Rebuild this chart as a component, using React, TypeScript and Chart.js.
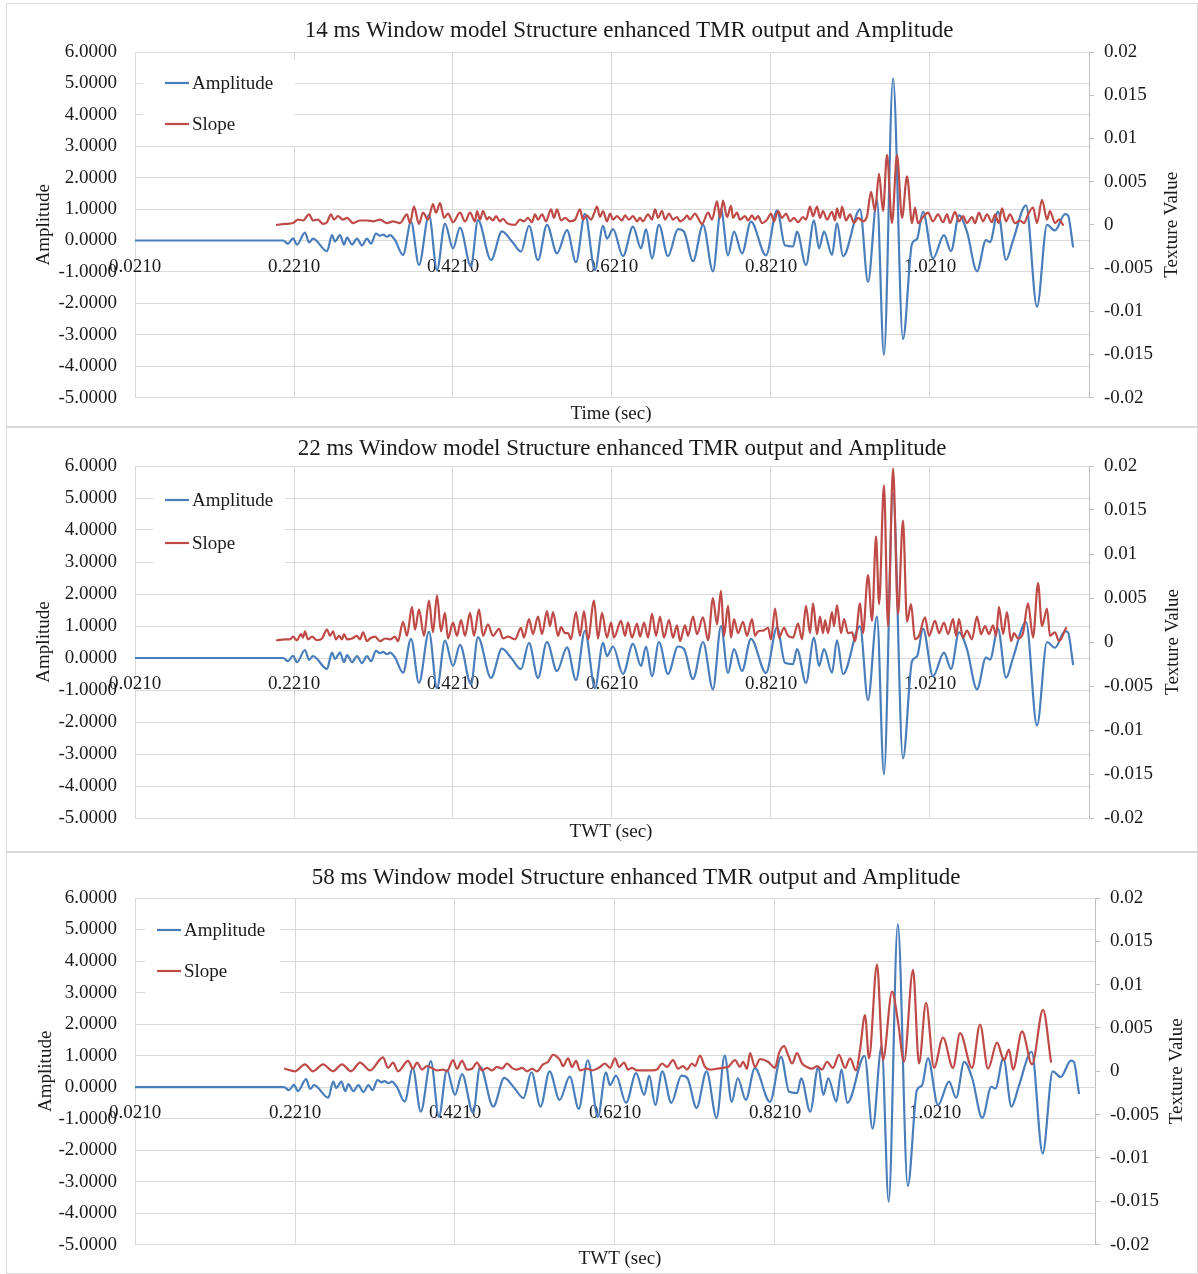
import React, { useEffect, useRef } from "react";
import { Chart, registerables } from "chart.js";

Chart.register(...registerables);

const FONT = "'Liberation Serif', 'Times New Roman', Times, serif";
const TEXT = "#1a1a1a";
const GRID = "#d9d9d9";
const AXIS = "#bfbfbf";
const BLUE = "#4a7ebb";
const RED = "#be4b48";

// ---------- labels & ticks ----------
const seriesNames = ["Amplitude", "Slope"];
const chartTitles = [
  "14 ms Window model Structure enhanced TMR output and Amplitude",
  "22 ms Window model Structure enhanced TMR output and Amplitude",
  "58 ms Window model Structure enhanced TMR output and Amplitude",
];
const xAxisTitles = ["Time (sec)", "TWT (sec)", "TWT (sec)"];
const leftAxisTitle = "Amplitude";
const rightAxisTitle = "Texture Value";
const xTickValues = [0.021, 0.221, 0.421, 0.621, 0.821, 1.021];
const amplitudeTickValues = [-5, -4, -3, -2, -1, 0, 1, 2, 3, 4, 5, 6];
const textureTickValues = [-0.02, -0.015, -0.01, -0.005, 0, 0.005, 0.01, 0.015, 0.02];
const xMin = 0.021;
const xMax = 1.221;

// ---------- amplitude trace (same in all three panels) ----------
const ampTimes = [
  0.021, 0.2072, 0.2135, 0.2197, 0.2248, 0.2348, 0.2399, 0.2449, 0.2625, 0.2688,
  0.2726, 0.2789, 0.2839, 0.2877, 0.2940, 0.3002, 0.3065, 0.3128, 0.3179, 0.3241,
  0.3292, 0.3329, 0.3380, 0.3417, 0.3480, 0.3581, 0.3682, 0.3782, 0.3908, 0.4009,
  0.4109, 0.4210, 0.4298, 0.4436, 0.4524, 0.4688, 0.4826, 0.4952, 0.5065, 0.5166,
  0.5279, 0.5392, 0.5518, 0.5644, 0.5757, 0.5870, 0.5996, 0.6097, 0.6147, 0.6223,
  0.6348, 0.6474, 0.6575, 0.6638, 0.6713, 0.6801, 0.6914, 0.7040, 0.7116, 0.7229,
  0.7355, 0.7480, 0.7581, 0.7669, 0.7745, 0.7845, 0.7958, 0.8147, 0.8286, 0.8386,
  0.8487, 0.8537, 0.8650, 0.8751, 0.8814, 0.8877, 0.8977, 0.9040, 0.9116, 0.9330,
  0.9430, 0.9543, 0.9631, 0.9745, 0.9870, 0.9984, 1.0047, 1.0122, 1.0248, 1.0386,
  1.0474, 1.0575, 1.0675, 1.0801, 1.0914, 1.0965, 1.1065, 1.1166, 1.1254, 1.1418,
  1.1556, 1.1682, 1.1782, 1.1908, 1.1946, 1.2009,
];
const ampValues = [
  0, 0, -0.10, 0.07, -0.13, 0.25, -0.06, 0.06, -0.34, 0.17,
  -0.03, 0.17, -0.13, 0.09, -0.13, 0.06, -0.16, 0.06, -0.10, 0.22,
  0.15, 0.19, 0.12, 0.17, 0.02, -0.46, 0.60, -0.78, 0.82, -0.94,
  0.54, -0.25, 0.41, -0.82, 0.65, -0.62, 0.29, -0.03, -0.35, 0.47,
  -0.62, 0.50, -0.41, 0.33, -0.69, 0.85, -0.94, 0.47, 0.06, 0.36,
  -0.50, 0.44, -0.25, 0.36, -0.57, 0.50, -0.50, 0.36, 0.28, -0.66,
  0.50, -0.98, 1.00, -0.47, 0.28, -0.41, 0.60, -0.47, 0.96, -0.15,
  -0.19, 0.28, -0.78, 0.64, -0.25, 0.28, -0.46, 0.55, -0.50, 0.99,
  -1.32, 1.30, -3.64, 5.16, -3.14, -0.10, 0.05, 0.92, -0.57, 0.17,
  -0.34, 0.80, 0.28, -0.98, 0.01, -0.05, 0.92, -0.62, 0.00, 1.12,
  -2.11, 0.50, 0.32, 0.84, 0.80, -0.19,
];

// ---------- slope, 14 ms window ----------
const slope14Times = [
  0.1996, 0.2097, 0.2197, 0.2260, 0.2323, 0.2399, 0.2449, 0.2512, 0.2575, 0.2625,
  0.2675, 0.2713, 0.2763, 0.2826, 0.2877, 0.2952, 0.3040, 0.3128, 0.3204, 0.3292,
  0.3380, 0.3455, 0.3543, 0.3631, 0.3669, 0.3719, 0.3782, 0.3833, 0.3896, 0.3958,
  0.3996, 0.4047, 0.4097, 0.4147, 0.4210, 0.4298, 0.4361, 0.4424, 0.4487, 0.4512,
  0.4550, 0.4587, 0.4638, 0.4663, 0.4713, 0.4751, 0.4801, 0.4839, 0.4889, 0.4990,
  0.5053, 0.5103, 0.5153, 0.5204, 0.5241, 0.5279, 0.5330, 0.5380, 0.5443, 0.5480,
  0.5518, 0.5569, 0.5619, 0.5682, 0.5745, 0.5807, 0.5845, 0.5896, 0.5946, 0.5984,
  0.6021, 0.6059, 0.6097, 0.6147, 0.6185, 0.6223, 0.6273, 0.6336, 0.6374, 0.6424,
  0.6474, 0.6525, 0.6562, 0.6600, 0.6663, 0.6713, 0.6751, 0.6789, 0.6839, 0.6877,
  0.6927, 0.6977, 0.7028, 0.7065, 0.7128, 0.7153, 0.7191, 0.7254, 0.7292, 0.7342,
  0.7418, 0.7468, 0.7531, 0.7569, 0.7606, 0.7657, 0.7707, 0.7732, 0.7782, 0.7820,
  0.7883, 0.7921, 0.7971, 0.8009, 0.8047, 0.8097, 0.8160, 0.8210, 0.8248, 0.8298,
  0.8348, 0.8399, 0.8449, 0.8499, 0.8550, 0.8613, 0.8650, 0.8701, 0.8738, 0.8789,
  0.8826, 0.8864, 0.8914, 0.8977, 0.9015, 0.9040, 0.9078, 0.9103, 0.9153, 0.9204,
  0.9254, 0.9304, 0.9367, 0.9418, 0.9468, 0.9518, 0.9569, 0.9619, 0.9669, 0.9732,
  0.9795, 0.9858, 0.9921, 0.9984, 1.0021, 1.0059, 1.0122, 1.0185, 1.0248, 1.0311,
  1.0374, 1.0424, 1.0462, 1.0524, 1.0575, 1.0625, 1.0675, 1.0738, 1.0776, 1.0826,
  1.0877, 1.0927, 1.0990, 1.1028, 1.1072, 1.1116, 1.1166, 1.1216, 1.1279, 1.1342,
  1.1392, 1.1443, 1.1506, 1.1556, 1.1619, 1.1682, 1.1719, 1.1782, 1.1833, 1.1883,
];
const slope14Values = [
  0.0000, 0.0001, 0.0002, 0.0006, 0.0005, 0.0012, 0.0005, 0.0006, 0.0001, 0.0003,
  0.0012, 0.0006, 0.0010, 0.0006, 0.0008, 0.0002, 0.0005, 0.0005, 0.0004, 0.0006,
  0.0002, 0.0004, 0.0002, 0.0012, 0.0002, 0.0021, 0.0001, 0.0014, 0.0006, 0.0024,
  0.0014, 0.0025, 0.0008, 0.0013, 0.0003, 0.0014, 0.0004, 0.0014, 0.0004, 0.0016,
  0.0006, 0.0016, 0.0006, 0.0009, 0.0005, 0.0010, 0.0004, 0.0007, 0.0002, 0.0000,
  0.0006, 0.0004, 0.0008, 0.0003, 0.0012, 0.0006, 0.0012, 0.0004, 0.0018, 0.0008,
  0.0018, 0.0005, 0.0008, 0.0004, 0.0006, 0.0018, 0.0006, 0.0011, 0.0006, 0.0013,
  0.0021, 0.0009, 0.0016, 0.0004, 0.0013, 0.0006, 0.0010, 0.0005, 0.0011, 0.0006,
  0.0010, 0.0004, 0.0008, 0.0004, 0.0012, 0.0006, 0.0018, 0.0008, 0.0016, 0.0006,
  0.0013, 0.0006, 0.0009, 0.0004, 0.0008, 0.0011, 0.0006, 0.0013, 0.0008, 0.0001,
  0.0014, 0.0006, 0.0027, 0.0008, 0.0028, 0.0009, 0.0022, 0.0008, 0.0014, 0.0006,
  0.0010, 0.0005, 0.0011, 0.0006, 0.0010, 0.0002, 0.0006, 0.0013, 0.0004, 0.0016,
  0.0008, 0.0013, 0.0004, 0.0008, 0.0003, 0.0009, 0.0006, 0.0021, 0.0010, 0.0021,
  0.0008, 0.0016, 0.0006, 0.0015, 0.0005, 0.0019, 0.0008, 0.0021, 0.0005, 0.0012,
  0.0002, 0.0008, 0.0004, 0.0010, 0.0038, 0.0016, 0.0059, 0.0016, 0.0081, 0.0002,
  0.0081, 0.0008, 0.0056, 0.0002, 0.0020, 0.0002, 0.0009, 0.0014, 0.0004, 0.0012,
  0.0003, 0.0012, 0.0002, 0.0015, 0.0004, 0.0010, 0.0002, 0.0009, 0.0002, 0.0014,
  0.0004, 0.0012, 0.0003, 0.0012, 0.0002, 0.0019, 0.0004, 0.0012, 0.0002, 0.0005,
  0.0002, 0.0012, 0.0020, 0.0002, 0.0029, 0.0006, 0.0016, 0.0002, 0.0006, 0.0000,
];

// ---------- slope, 22 ms window ----------
const slope22Times = [
  0.1996, 0.2097, 0.2160, 0.2197, 0.2248, 0.2298, 0.2323, 0.2348, 0.2386, 0.2437,
  0.2499, 0.2562, 0.2625, 0.2663, 0.2701, 0.2738, 0.2776, 0.2814, 0.2839, 0.2877,
  0.2940, 0.3002, 0.3040, 0.3078, 0.3128, 0.3166, 0.3229, 0.3292, 0.3355, 0.3417,
  0.3480, 0.3518, 0.3581, 0.3631, 0.3694, 0.3732, 0.3782, 0.3845, 0.3908, 0.3958,
  0.4009, 0.4059, 0.4109, 0.4147, 0.4210, 0.4260, 0.4311, 0.4361, 0.4424, 0.4474,
  0.4537, 0.4587, 0.4650, 0.4713, 0.4789, 0.4839, 0.4902, 0.4990, 0.5065, 0.5103,
  0.5166, 0.5216, 0.5279, 0.5330, 0.5392, 0.5430, 0.5468, 0.5531, 0.5569, 0.5619,
  0.5657, 0.5694, 0.5757, 0.5807, 0.5858, 0.5908, 0.5984, 0.6034, 0.6084, 0.6147,
  0.6198, 0.6235, 0.6323, 0.6374, 0.6411, 0.6462, 0.6525, 0.6562, 0.6613, 0.6663,
  0.6713, 0.6764, 0.6814, 0.6864, 0.6927, 0.6977, 0.7028, 0.7065, 0.7128, 0.7166,
  0.7229, 0.7279, 0.7355, 0.7418, 0.7480, 0.7531, 0.7581, 0.7619, 0.7669, 0.7707,
  0.7745, 0.7795, 0.7858, 0.7908, 0.7971, 0.8009, 0.8047, 0.8110, 0.8173, 0.8210,
  0.8261, 0.8311, 0.8374, 0.8424, 0.8487, 0.8550, 0.8600, 0.8650, 0.8701, 0.8738,
  0.8789, 0.8826, 0.8864, 0.8890, 0.8927, 0.8977, 0.9003, 0.9040, 0.9091, 0.9129,
  0.9179, 0.9229, 0.9267, 0.9330, 0.9367, 0.9430, 0.9481, 0.9531, 0.9569, 0.9631,
  0.9682, 0.9745, 0.9808, 0.9870, 0.9921, 0.9971, 1.0021, 1.0072, 1.0147, 1.0198,
  1.0273, 1.0324, 1.0386, 1.0437, 1.0500, 1.0537, 1.0575, 1.0625, 1.0675, 1.0738,
  1.0801, 1.0852, 1.0902, 1.0952, 1.1003, 1.1041, 1.1078, 1.1129, 1.1179, 1.1229,
  1.1267, 1.1317, 1.1380, 1.1443, 1.1506, 1.1569, 1.1619, 1.1682, 1.1719, 1.1782,
  1.1833, 1.1921,
];
const slope22Values = [
  0.0002, 0.0003, 0.0003, 0.0006, 0.0002, 0.0009, 0.0005, 0.0012, 0.0003, 0.0006,
  0.0002, 0.0004, 0.0014, 0.0007, 0.0012, 0.0003, 0.0007, 0.0003, 0.0009, 0.0003,
  0.0004, 0.0007, 0.0003, 0.0011, 0.0001, 0.0004, 0.0006, 0.0001, 0.0004, 0.0003,
  0.0006, 0.0001, 0.0023, 0.0007, 0.0040, 0.0014, 0.0037, 0.0007, 0.0047, 0.0011,
  0.0053, 0.0012, 0.0033, 0.0004, 0.0022, 0.0007, 0.0025, 0.0007, 0.0033, 0.0007,
  0.0037, 0.0007, 0.0020, 0.0007, 0.0015, 0.0004, 0.0006, 0.0003, 0.0016, 0.0005,
  0.0026, 0.0009, 0.0029, 0.0009, 0.0035, 0.0018, 0.0034, 0.0007, 0.0017, 0.0010,
  0.0010, 0.0003, 0.0034, 0.0007, 0.0035, 0.0003, 0.0047, 0.0004, 0.0033, 0.0005,
  0.0022, 0.0005, 0.0024, 0.0007, 0.0022, 0.0005, 0.0021, 0.0006, 0.0022, 0.0005,
  0.0032, 0.0007, 0.0029, 0.0005, 0.0025, 0.0005, 0.0019, 0.0001, 0.0019, 0.0007,
  0.0029, 0.0009, 0.0028, 0.0002, 0.0050, 0.0020, 0.0058, 0.0007, 0.0041, 0.0005,
  0.0026, 0.0010, 0.0023, 0.0007, 0.0026, 0.0007, 0.0012, 0.0013, 0.0016, 0.0003,
  0.0038, 0.0005, 0.0016, 0.0007, 0.0005, 0.0021, 0.0003, 0.0041, 0.0010, 0.0044,
  0.0009, 0.0029, 0.0010, 0.0025, 0.0010, 0.0034, 0.0018, 0.0042, 0.0010, 0.0026,
  0.0010, 0.0011, 0.0001, 0.0044, 0.0010, 0.0076, 0.0024, 0.0120, 0.0043, 0.0178,
  0.0018, 0.0197, 0.0032, 0.0138, 0.0023, 0.0043, 0.0003, 0.0007, 0.0028, 0.0007,
  0.0024, 0.0010, 0.0022, 0.0009, 0.0026, 0.0007, 0.0026, 0.0005, 0.0013, 0.0003,
  0.0029, 0.0009, 0.0018, 0.0009, 0.0019, 0.0007, 0.0040, 0.0009, 0.0034, 0.0001,
  0.0010, 0.0004, 0.0010, 0.0044, 0.0005, 0.0067, 0.0018, 0.0038, 0.0007, 0.0011,
  0.0001, 0.0016,
];

// ---------- slope, 58 ms window ----------
const slope58Times = [
  0.2085, 0.2210, 0.2335, 0.2435, 0.2560, 0.2685, 0.2798, 0.2910, 0.3023, 0.3148,
  0.3310, 0.3373, 0.3435, 0.3498, 0.3623, 0.3685, 0.3735, 0.3798, 0.3860, 0.3935,
  0.3985, 0.4060, 0.4110, 0.4185, 0.4235, 0.4298, 0.4360, 0.4423, 0.4485, 0.4548,
  0.4610, 0.4673, 0.4735, 0.4798, 0.4860, 0.4923, 0.4985, 0.5048, 0.5110, 0.5173,
  0.5235, 0.5310, 0.5373, 0.5435, 0.5523, 0.5560, 0.5623, 0.5673, 0.5723, 0.5773,
  0.5860, 0.5923, 0.5985, 0.6023, 0.6085, 0.6148, 0.6210, 0.6260, 0.6323, 0.6373,
  0.6423, 0.6485, 0.6585, 0.6673, 0.6735, 0.6798, 0.6860, 0.6935, 0.6998, 0.7060,
  0.7110, 0.7173, 0.7210, 0.7273, 0.7335, 0.7398, 0.7485, 0.7548, 0.7623, 0.7710,
  0.7773, 0.7810, 0.7860, 0.7898, 0.7960, 0.8023, 0.8123, 0.8210, 0.8260, 0.8323,
  0.8373, 0.8423, 0.8485, 0.8548, 0.8610, 0.8673, 0.8735, 0.8798, 0.8860, 0.8935,
  0.9010, 0.9085, 0.9148, 0.9223, 0.9273, 0.9335, 0.9385, 0.9485, 0.9560, 0.9673,
  0.9748, 0.9823, 0.9935, 1.0010, 1.0098, 1.0198, 1.0310, 1.0435, 1.0523, 1.0673,
  1.0773, 1.0873, 1.0985, 1.1073, 1.1135, 1.1185, 1.1298, 1.1423, 1.1560, 1.1660,
];
const slope58Values = [
  0.0003, 0.0000, 0.0008, 0.0000, 0.0008, 0.0000, 0.0008, 0.0000, 0.0010, 0.0001,
  0.0016, 0.0004, 0.0010, 0.0000, 0.0012, 0.0003, 0.0010, 0.0002, 0.0006, 0.0003,
  0.0001, 0.0002, 0.0000, 0.0013, 0.0003, 0.0012, 0.0002, 0.0003, 0.0010, 0.0001,
  0.0004, 0.0001, 0.0005, 0.0003, 0.0009, 0.0004, 0.0002, 0.0004, 0.0000, 0.0003,
  0.0000, 0.0008, 0.0011, 0.0019, 0.0013, 0.0006, 0.0015, 0.0005, 0.0012, 0.0001,
  0.0003, 0.0001, 0.0003, 0.0005, 0.0009, 0.0004, 0.0015, 0.0005, 0.0010, 0.0002,
  0.0004, 0.0001, 0.0001, 0.0001, 0.0002, 0.0009, 0.0005, 0.0013, 0.0003, 0.0006,
  0.0002, 0.0009, 0.0006, 0.0018, 0.0005, 0.0002, 0.0003, 0.0004, 0.0005, 0.0013,
  0.0005, 0.0011, 0.0003, 0.0021, 0.0005, 0.0014, 0.0011, 0.0004, 0.0021, 0.0029,
  0.0019, 0.0009, 0.0021, 0.0009, 0.0005, 0.0003, 0.0006, 0.0002, 0.0011, 0.0004,
  0.0019, 0.0004, 0.0015, 0.0001, 0.0025, 0.0065, 0.0015, 0.0123, 0.0013, 0.0092,
  0.0057, 0.0011, 0.0117, 0.0009, 0.0079, 0.0004, 0.0039, 0.0004, 0.0044, 0.0004,
  0.0054, 0.0003, 0.0033, 0.0013, 0.0025, 0.0002, 0.0046, 0.0008, 0.0071, 0.0011,
];

// ---------- panel layout (positions only) ----------
type Panel = {
  id: number;
  x: number; y: number; w: number; h: number;
  plotLeft: number; plotRight: number; plotTop: number; plotBottom: number;
  titleX: number; titleY: number;
  xTitleX: number; xTitleY: number;
  leftTitleX: number; rightTitleX: number;
  legendBox: number[]; legendLineX: number; legendY: number[];
  slopeTimes: number[]; slopeValues: number[];
};

const panels: Panel[] = [
  {
    id: 0, x: 6, y: 3, w: 1192, h: 424,
    plotLeft: 129, plotRight: 1083, plotTop: 49, plotBottom: 398,
    titleX: 623, titleY: 28, xTitleX: 605, xTitleY: 411,
    leftTitleX: 38, rightTitleX: 1166,
    legendBox: [8, 8, 152, 86], legendLineX: 30, legendY: [31, 72],
    slopeTimes: slope14Times, slopeValues: slope14Values,
  },
  {
    id: 1, x: 6, y: 427, w: 1192, h: 425,
    plotLeft: 129, plotRight: 1083, plotTop: 39, plotBottom: 391,
    titleX: 616, titleY: 22, xTitleX: 605, xTitleY: 405,
    leftTitleX: 38, rightTitleX: 1167,
    legendBox: [18, 4, 132, 100], legendLineX: 30, legendY: [34, 77],
    slopeTimes: slope22Times, slopeValues: slope22Values,
  },
  {
    id: 2, x: 6, y: 852, w: 1192, h: 422,
    plotLeft: 129, plotRight: 1089, plotTop: 46, plotBottom: 393,
    titleX: 630, titleY: 26, xTitleX: 614, xTitleY: 407,
    leftTitleX: 40, rightTitleX: 1171,
    legendBox: [10, 6, 135, 92], legendLineX: 22, legendY: [32, 73],
    slopeTimes: slope58Times, slopeValues: slope58Values,
  },
];

function toPoints(times: number[], values: number[]) {
  const n = Math.min(times.length, values.length);
  const pts: { x: number; y: number }[] = [];
  for (let i = 0; i < n; i++) pts.push({ x: times[i], y: values[i] });
  return pts;
}

function makeDecor(p: Panel) {
  return {
    id: "decor" + p.id,
    beforeDraw(chart: any) {
      const { ctx, width, height } = chart;
      ctx.save();
      ctx.fillStyle = "#ffffff";
      ctx.fillRect(0, 0, width, height);
      ctx.strokeStyle = GRID;
      ctx.lineWidth = 1;
      ctx.strokeRect(0.5, 0.5, width - 1, height - 1);
      ctx.restore();
    },
    afterDatasetsDraw(chart: any) {
      const { ctx, chartArea } = chart;
      const [bx, by, bw, bh] = p.legendBox;
      ctx.save();
      ctx.fillStyle = "#ffffff";
      ctx.fillRect(chartArea.left + bx, chartArea.top + by, bw, bh);
      const colors = [BLUE, RED];
      ctx.font = `19px ${FONT}`;
      ctx.textAlign = "left";
      ctx.textBaseline = "middle";
      for (let i = 0; i < 2; i++) {
        const lx = chartArea.left + p.legendLineX;
        const ly = chartArea.top + p.legendY[i];
        ctx.strokeStyle = colors[i];
        ctx.lineWidth = 2.2;
        ctx.beginPath();
        ctx.moveTo(lx, ly);
        ctx.lineTo(lx + 24, ly);
        ctx.stroke();
        ctx.fillStyle = TEXT;
        ctx.fillText(seriesNames[i], lx + 27, ly + 1);
      }
      ctx.restore();
    },
    afterDraw(chart: any) {
      const { ctx, chartArea } = chart;
      ctx.save();
      ctx.fillStyle = TEXT;
      ctx.textAlign = "center";
      ctx.textBaseline = "middle";
      ctx.font = `23px ${FONT}`;
      ctx.fillText(chartTitles[p.id], p.titleX, p.titleY);
      ctx.font = `19px ${FONT}`;
      ctx.fillText(xAxisTitles[p.id], p.xTitleX, p.xTitleY);
      const cy = (chartArea.top + chartArea.bottom) / 2;
      ctx.save();
      ctx.translate(p.leftTitleX, cy);
      ctx.rotate(-Math.PI / 2);
      ctx.fillText(leftAxisTitle, 0, 0);
      ctx.restore();
      ctx.save();
      ctx.translate(p.rightTitleX, cy);
      ctx.rotate(-Math.PI / 2);
      ctx.fillText(rightAxisTitle, 0, 0);
      ctx.restore();
      ctx.restore();
    },
  };
}

function PanelChart({ p }: { p: Panel }) {
  const ref = useRef<HTMLCanvasElement>(null);
  useEffect(() => {
    const canvas = ref.current;
    if (!canvas) return;
    const tickFont = { family: FONT, size: 19 };
    const chart = new Chart(canvas, {
      type: "line",
      data: {
        datasets: [
          {
            label: seriesNames[0],
            data: toPoints(ampTimes, ampValues),
            yAxisID: "y",
            borderColor: BLUE,
            backgroundColor: BLUE,
            borderWidth: 2.2,
            pointRadius: 0,
            fill: false,
            cubicInterpolationMode: "monotone",
            borderJoinStyle: "round",
            borderCapStyle: "round",
            order: 2,
          },
          {
            label: seriesNames[1],
            data: toPoints(p.slopeTimes, p.slopeValues),
            yAxisID: "y1",
            borderColor: RED,
            backgroundColor: RED,
            borderWidth: 2.2,
            pointRadius: 0,
            fill: false,
            cubicInterpolationMode: "monotone",
            borderJoinStyle: "round",
            borderCapStyle: "round",
            order: 1,
          },
        ],
      },
      options: {
        responsive: false,
        animation: false,
        devicePixelRatio: 1,
        events: [],
        layout: { padding: { top: p.plotTop, bottom: p.h - p.plotBottom, left: 0, right: 0 } },
        plugins: {
          legend: { display: false },
          tooltip: { enabled: false },
          title: { display: false },
        },
        scales: {
          x: {
            type: "linear",
            position: { y: 0 },
            min: xMin,
            max: xMax,
            bounds: "data",
            afterBuildTicks: (s: any) => {
              s.ticks = xTickValues.map((v) => ({ value: v }));
            },
            ticks: {
              callback: (v: any) => Number(v).toFixed(4),
              font: tickFont,
              color: TEXT,
              padding: 15,
              maxRotation: 0,
              minRotation: 0,
              autoSkip: false,
            },
            grid: { color: GRID, lineWidth: 1, drawTicks: false },
            border: { display: true, color: GRID },
          },
          y: {
            type: "linear",
            position: "left",
            min: -5,
            max: 6,
            afterBuildTicks: (s: any) => {
              s.ticks = amplitudeTickValues.map((v) => ({ value: v }));
            },
            afterFit: (s: any) => {
              s.width = p.plotLeft;
            },
            ticks: {
              callback: (v: any) => Number(v).toFixed(4),
              font: tickFont,
              color: TEXT,
              padding: 18,
            },
            grid: { color: GRID, lineWidth: 1, drawTicks: false },
            border: { display: false },
          },
          y1: {
            type: "linear",
            position: "right",
            min: -0.02,
            max: 0.02,
            afterBuildTicks: (s: any) => {
              s.ticks = textureTickValues.map((v) => ({ value: v }));
            },
            afterFit: (s: any) => {
              s.width = p.w - p.plotRight;
            },
            ticks: {
              callback: (v: any) => String(Math.round(Number(v) * 1000) / 1000 + 0),
              font: tickFont,
              color: TEXT,
              padding: 10,
            },
            grid: { drawOnChartArea: false, drawTicks: true, tickLength: 5, color: AXIS },
            border: { display: true, color: AXIS },
          },
        },
      } as any,
      plugins: [makeDecor(p)],
    });
    return () => chart.destroy();
  }, [p]);
  return (
    <canvas
      ref={ref}
      width={p.w}
      height={p.h}
      style={{ position: "absolute", left: p.x, top: p.y, width: p.w, height: p.h, display: "block" }}
    />
  );
}

export default function App() {
  return (
    <div style={{ position: "absolute", left: 0, top: 0, width: 1198, height: 1274, background: "#ffffff" }}>
      {panels.map((p) => (
        <PanelChart key={p.id} p={p} />
      ))}
    </div>
  );
}
